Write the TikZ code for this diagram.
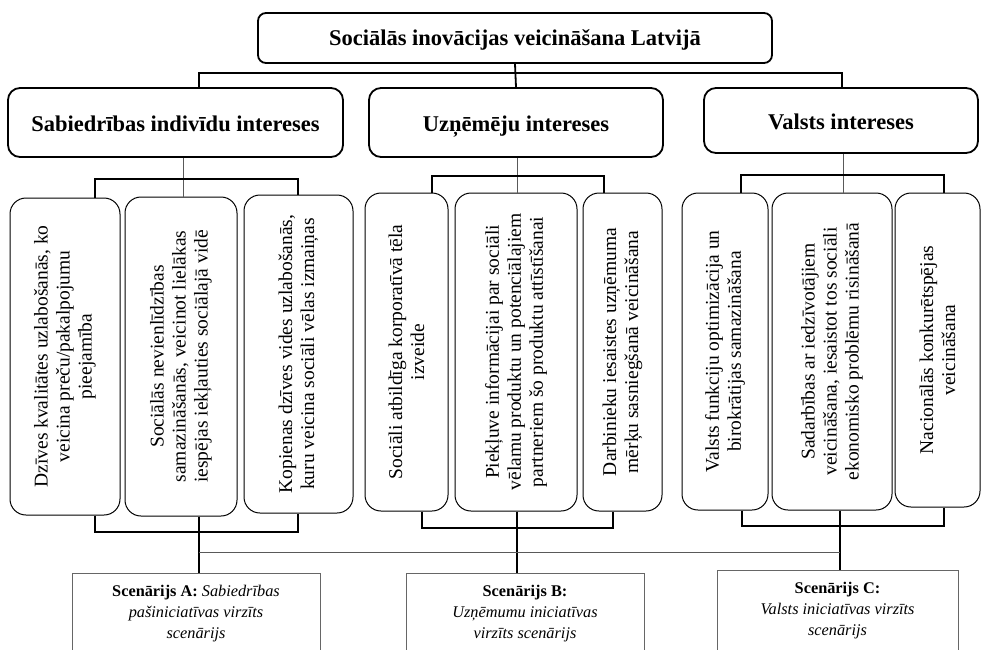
\documentclass[tikz,border=0pt]{standalone}
\usepackage{fontspec}
\setmainfont{Liberation Serif}
\begin{document}
\begin{tikzpicture}[x=1pt,y=-1pt,
  titlebox/.style={draw, line width=1.8pt, rounded corners=8pt, inner sep=0pt,
    text height=18pt, text depth=3pt,
    font=\bfseries\fontsize{22.5}{26}\selectfont},
  headbox/.style={draw, line width=1.8pt, rounded corners=12pt, inner sep=0pt,
    text height=20pt, text depth=3pt,
    font=\bfseries\fontsize{22.5}{26}\selectfont},
  itembox/.style={draw, line width=1pt, rounded corners=16pt, inner sep=0pt},
  vtext/.style={rotate=90, align=center, inner sep=0pt,
    font=\fontsize{19.5}{22}\selectfont},
  scenbox/.style={draw=black!60, line width=0.9pt, inner sep=0pt, align=center,
    font=\fontsize{16.3}{21}\selectfont},
  thickline/.style={line width=1.8pt},
  thinline/.style={line width=1pt, draw=black!65}]
\useasboundingbox (0,0) rectangle (983,649);
\clip (0,0) rectangle (983,649);

% title and heads
\node[titlebox, minimum width=514pt, minimum height=50pt] (t) at (515,38) {Sociālās inovācijas veicināšana Latvijā};
\node[headbox, minimum width=335pt, minimum height=69pt] (hs) at (175.5,122.5) {Sabiedrības indivīdu intereses};
\node[headbox, minimum width=294pt, minimum height=69pt] (hu) at (516,122.5) {Uzņēmēju intereses};
\node[headbox, minimum width=274pt, minimum height=65pt] (hv) at (841,120.5) {Valsts intereses};

% item boxes
\node[itembox, minimum width=110pt, minimum height=317pt] (b1) at (65,356.5) {};
\node[itembox, minimum width=112pt, minimum height=319pt] (b2) at (181,356.5) {};
\node[itembox, minimum width=109pt, minimum height=318pt] (b3) at (298.5,354) {};
\node[itembox, minimum width=83pt, minimum height=318pt] (b4) at (406.5,352) {};
\node[itembox, minimum width=122pt, minimum height=318pt] (b5) at (516,352) {};
\node[itembox, minimum width=79pt, minimum height=318pt] (b6) at (622.5,352) {};
\node[itembox, minimum width=86pt, minimum height=317pt] (b7) at (725,351.5) {};
\node[itembox, minimum width=120pt, minimum height=317pt] (b8) at (832,351.5) {};
\node[itembox, minimum width=85pt, minimum height=314pt] (b9) at (937.5,350) {};

\node[vtext] (x1) at (b1.center) {Dzīves kvalitātes uzlabošanās, ko\\veicina preču/pakalpojumu\\pieejamība};
\node[vtext] (x2) at (b2.center) {Sociālās nevienlīdzības\\samazināšanās, veicinot lielākas\\iespējas iekļauties sociālajā vidē};
\node[vtext] (x3) at (b3.center) {Kopienas dzīves vides uzlabošanās,\\kuru veicina sociāli vēlas izmaiņas};
\node[vtext] (x4) at (b4.center) {Sociāli atbildīga korporatīvā tēla\\izveide};
\node[vtext] (x5) at (b5.center) {Piekļuve informācijai par sociāli\\vēlamu produktu un potenciālajiem\\partneriem šo produktu attīstīšanai};
\node[vtext] (x6) at (b6.center) {Darbinieku iesaistes uzņēmuma\\mērķu sasniegšanā veicināšana};
\node[vtext] (x7) at (b7.center) {Valsts funkciju optimizācija un\\birokrātijas samazināšana};
\node[vtext] (x8) at (b8.center) {Sadarbības ar iedzīvotājiem\\veicināšana, iesaistot tos sociāli\\ekonomisko problēmu risināšanā};
\node[vtext] (x9) at (b9.center) {Nacionālās konkurētspējas\\veicināšana};

% scenario boxes (open at the bottom edge of the picture)
\node[scenbox, minimum width=248pt, minimum height=82pt] (sa) at (196,614) {\textbf{Scenārijs A:} \textit{Sabiedrības}\\\textit{pašiniciatīvas virzīts}\\\textit{scenārijs}};
\node[scenbox, minimum width=238pt, minimum height=82pt] (sb) at (525,614) {\textbf{Scenārijs B:}\\\textit{Uzņēmumu iniciatīvas}\\\textit{virzīts scenārijs}};
\node[scenbox, minimum width=241pt, minimum height=81pt] (sc) at (837.5,610.5) {\textbf{Scenārijs C:}\\\textit{Valsts iniciatīvas virzīts}\\\textit{scenārijs}};

% top connectors
\coordinate (tl) at (199,73);
\coordinate (tr) at (842,73);
\draw[thickline] (t.south) -- (hu.north);
\draw[thickline] (hs.north -| tl) -- (tl) -- (tr) -- (hv.north -| tr);

% group 1 upper bracket
\coordinate (g1l) at (95,179);
\coordinate (g1m) at (183,179);
\coordinate (g1r) at (298,179);
\draw[thinline] (hs.south -| g1m) -- (b2.north -| g1m);
\draw[thickline] (b1.north -| g1l) -- (g1l) -- (g1r) -- (b3.north -| g1r);
% group 2 upper bracket
\coordinate (g2l) at (432,176);
\coordinate (g2m) at (517,176);
\coordinate (g2r) at (604,176);
\draw[thinline] (hu.south -| g2m) -- (b5.north -| g2m);
\draw[thickline] (b4.north -| g2l) -- (g2l) -- (g2r) -- (b6.north -| g2r);
% group 3 upper bracket
\coordinate (g3l) at (741,175);
\coordinate (g3m) at (843,175);
\coordinate (g3r) at (944,175);
\draw[thinline] (hv.south -| g3m) -- (b8.north -| g3m);
\draw[thickline] (b7.north -| g3l) -- (g3l) -- (g3r) -- (b9.north -| g3r);

% lower brackets
\coordinate (l1l) at (95,532);
\coordinate (l1m) at (199,532);
\coordinate (l1r) at (298,532);
\draw[thickline] (b1.south -| l1l) -- (l1l) -- (l1r) -- (b3.south -| l1r);
\draw[thickline] (b2.south -| l1m) -- (sa.north -| l1m);
\coordinate (l2l) at (422,528);
\coordinate (l2m) at (517,528);
\coordinate (l2r) at (613,528);
\draw[thickline] (b4.south -| l2l) -- (l2l) -- (l2r) -- (b6.south -| l2r);
\draw[thickline] (b5.south -| l2m) -- (sb.north -| l2m);
\coordinate (l3l) at (742,526);
\coordinate (l3m) at (840,526);
\coordinate (l3r) at (944,526);
\draw[thickline] (b7.south -| l3l) -- (l3l) -- (l3r) -- (b9.south -| l3r);
\draw[thickline] (b8.south -| l3m) -- (sc.north -| l3m);

% long horizontal link
\coordinate (ha) at (199,552);
\coordinate (hc) at (840,552);
\draw[thinline] (ha) -- (hc);
\end{tikzpicture}
\end{document}
